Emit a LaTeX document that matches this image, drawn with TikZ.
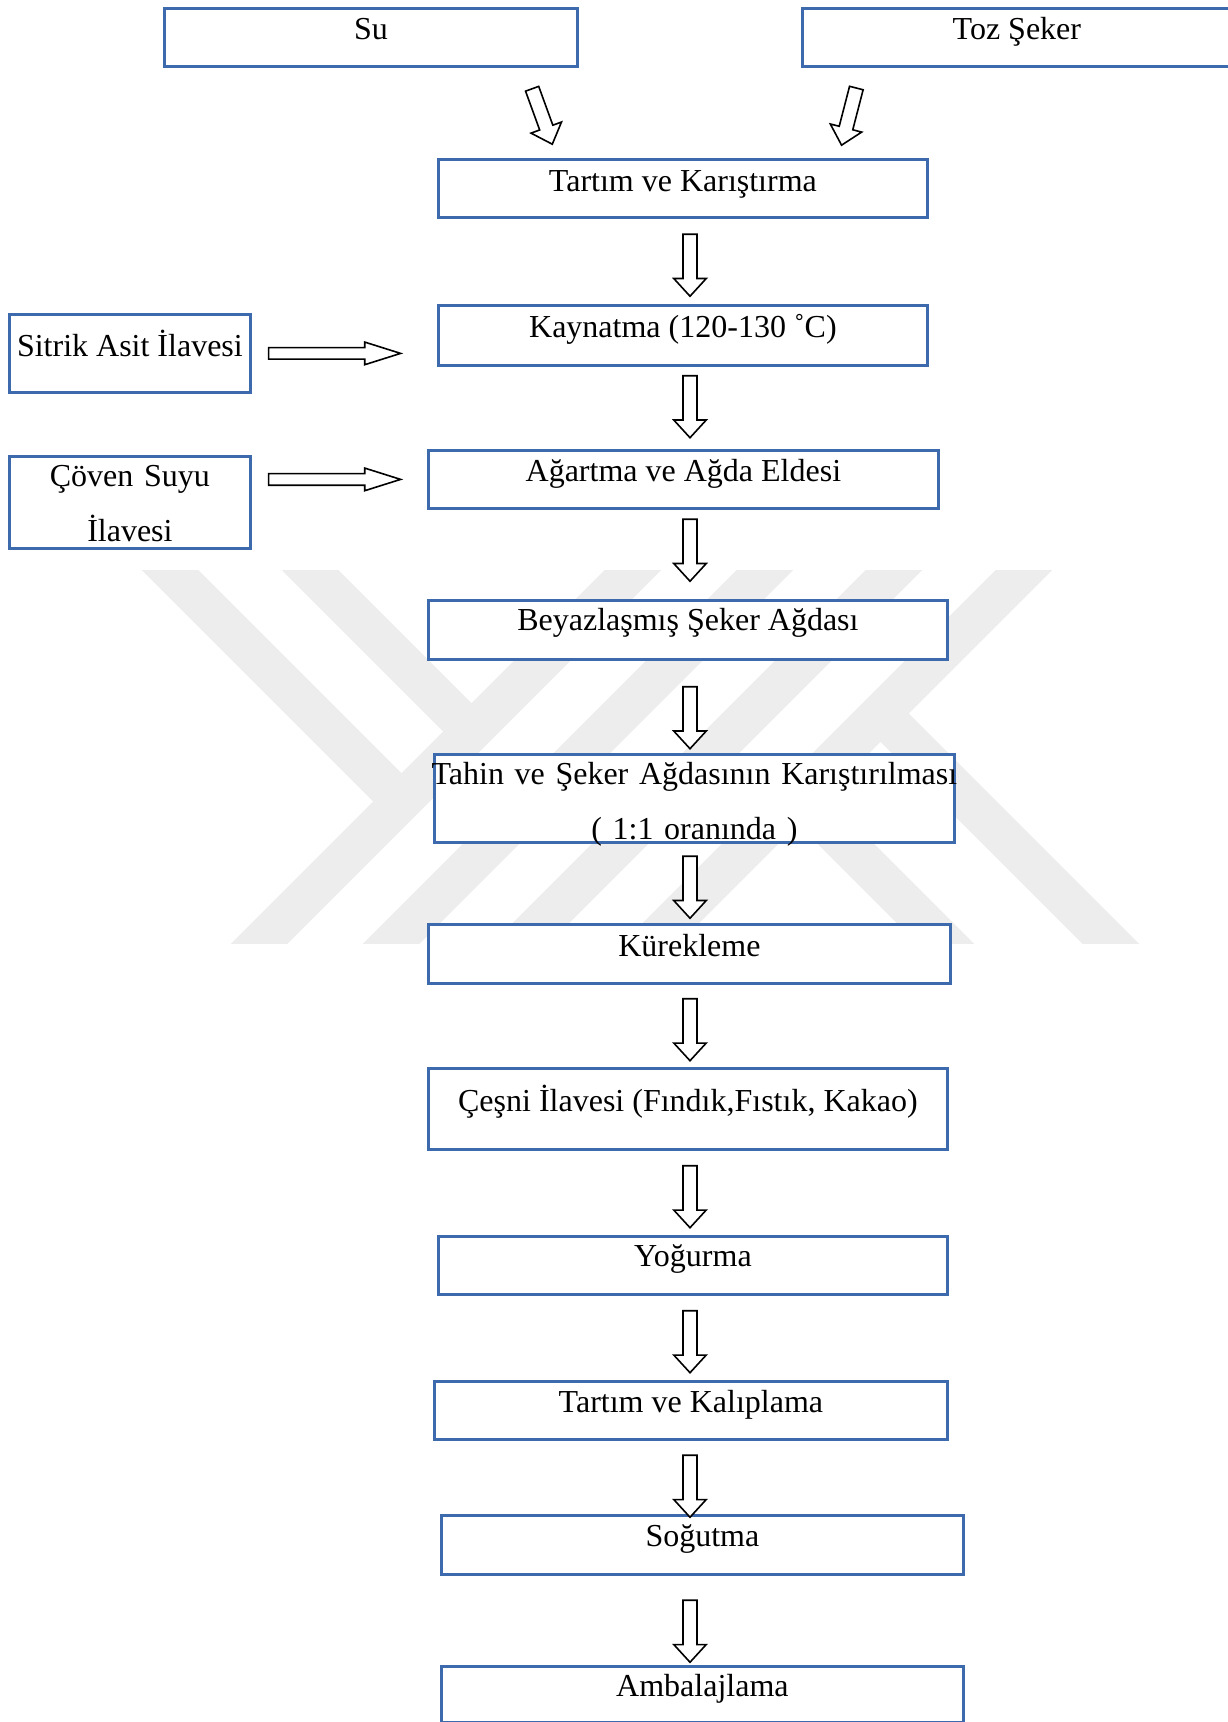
\documentclass[tikz,border=0pt]{standalone}
\usepackage{fontspec}
\setmainfont{Liberation Serif}
\usetikzlibrary{positioning,shapes.arrows,calc}
\definecolor{kenar}{RGB}{61,106,173}

\begin{document}
\begin{tikzpicture}[x=0.5pt, y=-0.5pt,
    kutu/.style={draw=kenar, line width=1.4pt, fill=white, inner sep=0pt,
        anchor=north west, font=\fontsize{16pt}{27.5pt}\selectfont},
    ok/.style={single arrow, draw, line width=0.8pt, fill=white, inner sep=3.1pt,
        minimum height=31pt, single arrow head extend=4.6pt, single arrow tip angle=85},
    asagi/.style={ok, rotate=-90},
    saga/.style={single arrow, draw, line width=0.8pt, fill=white, inner sep=2.5pt,
        minimum height=66pt, single arrow head extend=2.75pt, single arrow tip angle=35},
    filigran/.style={line width=20pt, draw=black!7}]
    \useasboundingbox (0,0) rectangle (1227,1722);

    % filigran
    \begin{scope}
        \clip (0,570) rectangle (1227,943);
        \foreach \x in {628,760,889,1019}
            \draw[filigran] (\x+30,545) -- (\x-400,975);
        \draw[filigran] (145,545) -- (401.5,801.5);
        \draw[filigran] (285,545) -- (471.5,731.5);
        \draw[filigran] (798,796) -- (977,975);
        \draw[filigran] (880.5,713.5) -- (1142,975);
    \end{scope}

    % kutular
    \node[kutu, minimum width=206.5pt, text height=15.5pt, text depth=13.5pt] (su) at (163,7) {Su};
    \node[kutu, minimum width=214.5pt, text height=15.5pt, text depth=13.5pt] (toz) at (801,7) {Toz Şeker};
    \node[kutu, minimum width=244.5pt, text height=16pt, text depth=13pt] (tartim) at (437,158) {Tartım ve Karıştırma};
    \node[kutu, minimum width=244.5pt, text height=16pt, text depth=14pt] (kaynatma) at (437,304) {Kaynatma (120-130 ˚C)};
    \node[kutu, minimum width=255pt, text height=15.5pt, text depth=13.5pt] (agartma) at (427,449) {Ağartma ve Ağda Eldesi};
    \node[kutu, minimum width=120.5pt, text height=21pt, text depth=18pt] (sitrik) at (8,313) {Sitrik Asit İlavesi};
    \node[kutu, text width=120.5pt, align=center, text height=15pt, text depth=31pt] (coven) at (8,455) {Çöven Suyu\\İlavesi};
    \node[kutu, minimum width=259.5pt, text height=15pt, text depth=14.5pt] (beyaz) at (427,599) {Beyazlaşmış Şeker Ağdası};
    \node[kutu, text width=260pt, align=center, text height=15pt, text depth=29pt] (tahin) at (433,753)
        {\makebox[\linewidth]{Tahin ve Şeker Ağdasının Karıştırılması}\\( 1:1 oranında )};
    \node[kutu, minimum width=261pt, text height=16pt, text depth=13.5pt] (kurek) at (427,923) {Kürekleme};
    \node[kutu, minimum width=259.5pt, text height=21.5pt, text depth=19pt] (cesni) at (427,1067) {Çeşni İlavesi (Fındık,Fıstık, Kakao)};
    \node[kutu, minimum width=254.5pt, text height=15pt, text depth=14pt] (yogurma) at (437,1235) {Yoğurma};
    \node[kutu, minimum width=256.5pt, text height=15.5pt, text depth=13.5pt] (kalip) at (433,1380) {Tartım ve Kalıplama};
    \node[kutu, minimum width=261pt, text height=15.5pt, text depth=14pt] (sogutma) at (440,1514) {Soğutma};
    \node[kutu, minimum width=261pt, text height=15pt, text depth=13pt] (ambalaj) at (440,1665) {Ambalajlama};

    % oklar
    \coordinate (eksen) at (690,0);
    \node[ok, minimum height=29.5pt, rotate=-70] (su-ok) at ($(su.south)!.5!(tartim.north)+(14,0)$) {};
    \node[ok, minimum height=29.5pt, rotate=-104.5] (toz-ok) at ($(toz.south)!.5!(tartim.north)$) {};

    \coordinate (m1) at ($(tartim.south)!.5!(kaynatma.north)$);
    \node[asagi] (o1) at (eksen |- m1) {};
    \coordinate (m2) at ($(kaynatma.south)!.5!(agartma.north)+(0,-5)$);
    \node[asagi] (o2) at (eksen |- m2) {};
    \coordinate (m3) at ($(agartma.south)!.5!(beyaz.north)+(0,-8)$);
    \node[asagi] (o3) at (eksen |- m3) {};
    \coordinate (m4) at ($(beyaz.south)!.5!(tahin.north)+(0,7)$);
    \node[asagi] (o4) at (eksen |- m4) {};
    \coordinate (m5) at ($(tahin.south)!.5!(kurek.north)$);
    \node[asagi] (o5) at (eksen |- m5) {};
    \coordinate (m6) at ($(kurek.south)!.5!(cesni.north)$);
    \node[asagi] (o6) at (eksen |- m6) {};
    \coordinate (m7) at ($(cesni.south)!.5!(yogurma.north)$);
    \node[asagi] (o7) at (eksen |- m7) {};
    \coordinate (m8) at ($(yogurma.south)!.5!(kalip.north)$);
    \node[asagi] (o8) at (eksen |- m8) {};
    \coordinate (m9) at ($(kalip.south)!.5!(sogutma.north)+(0,5)$);
    \node[asagi] (o9) at (eksen |- m9) {};
    \coordinate (m10) at ($(sogutma.south)!.5!(ambalaj.north)+(0,7)$);
    \node[asagi] (o10) at (eksen |- m10) {};

    \node[saga, right=8pt of sitrik] (s1) {};
    \coordinate (c0) at (coven.east |- agartma);
    \node[saga, right=8pt of c0] (c1) {};
\end{tikzpicture}
\end{document}
